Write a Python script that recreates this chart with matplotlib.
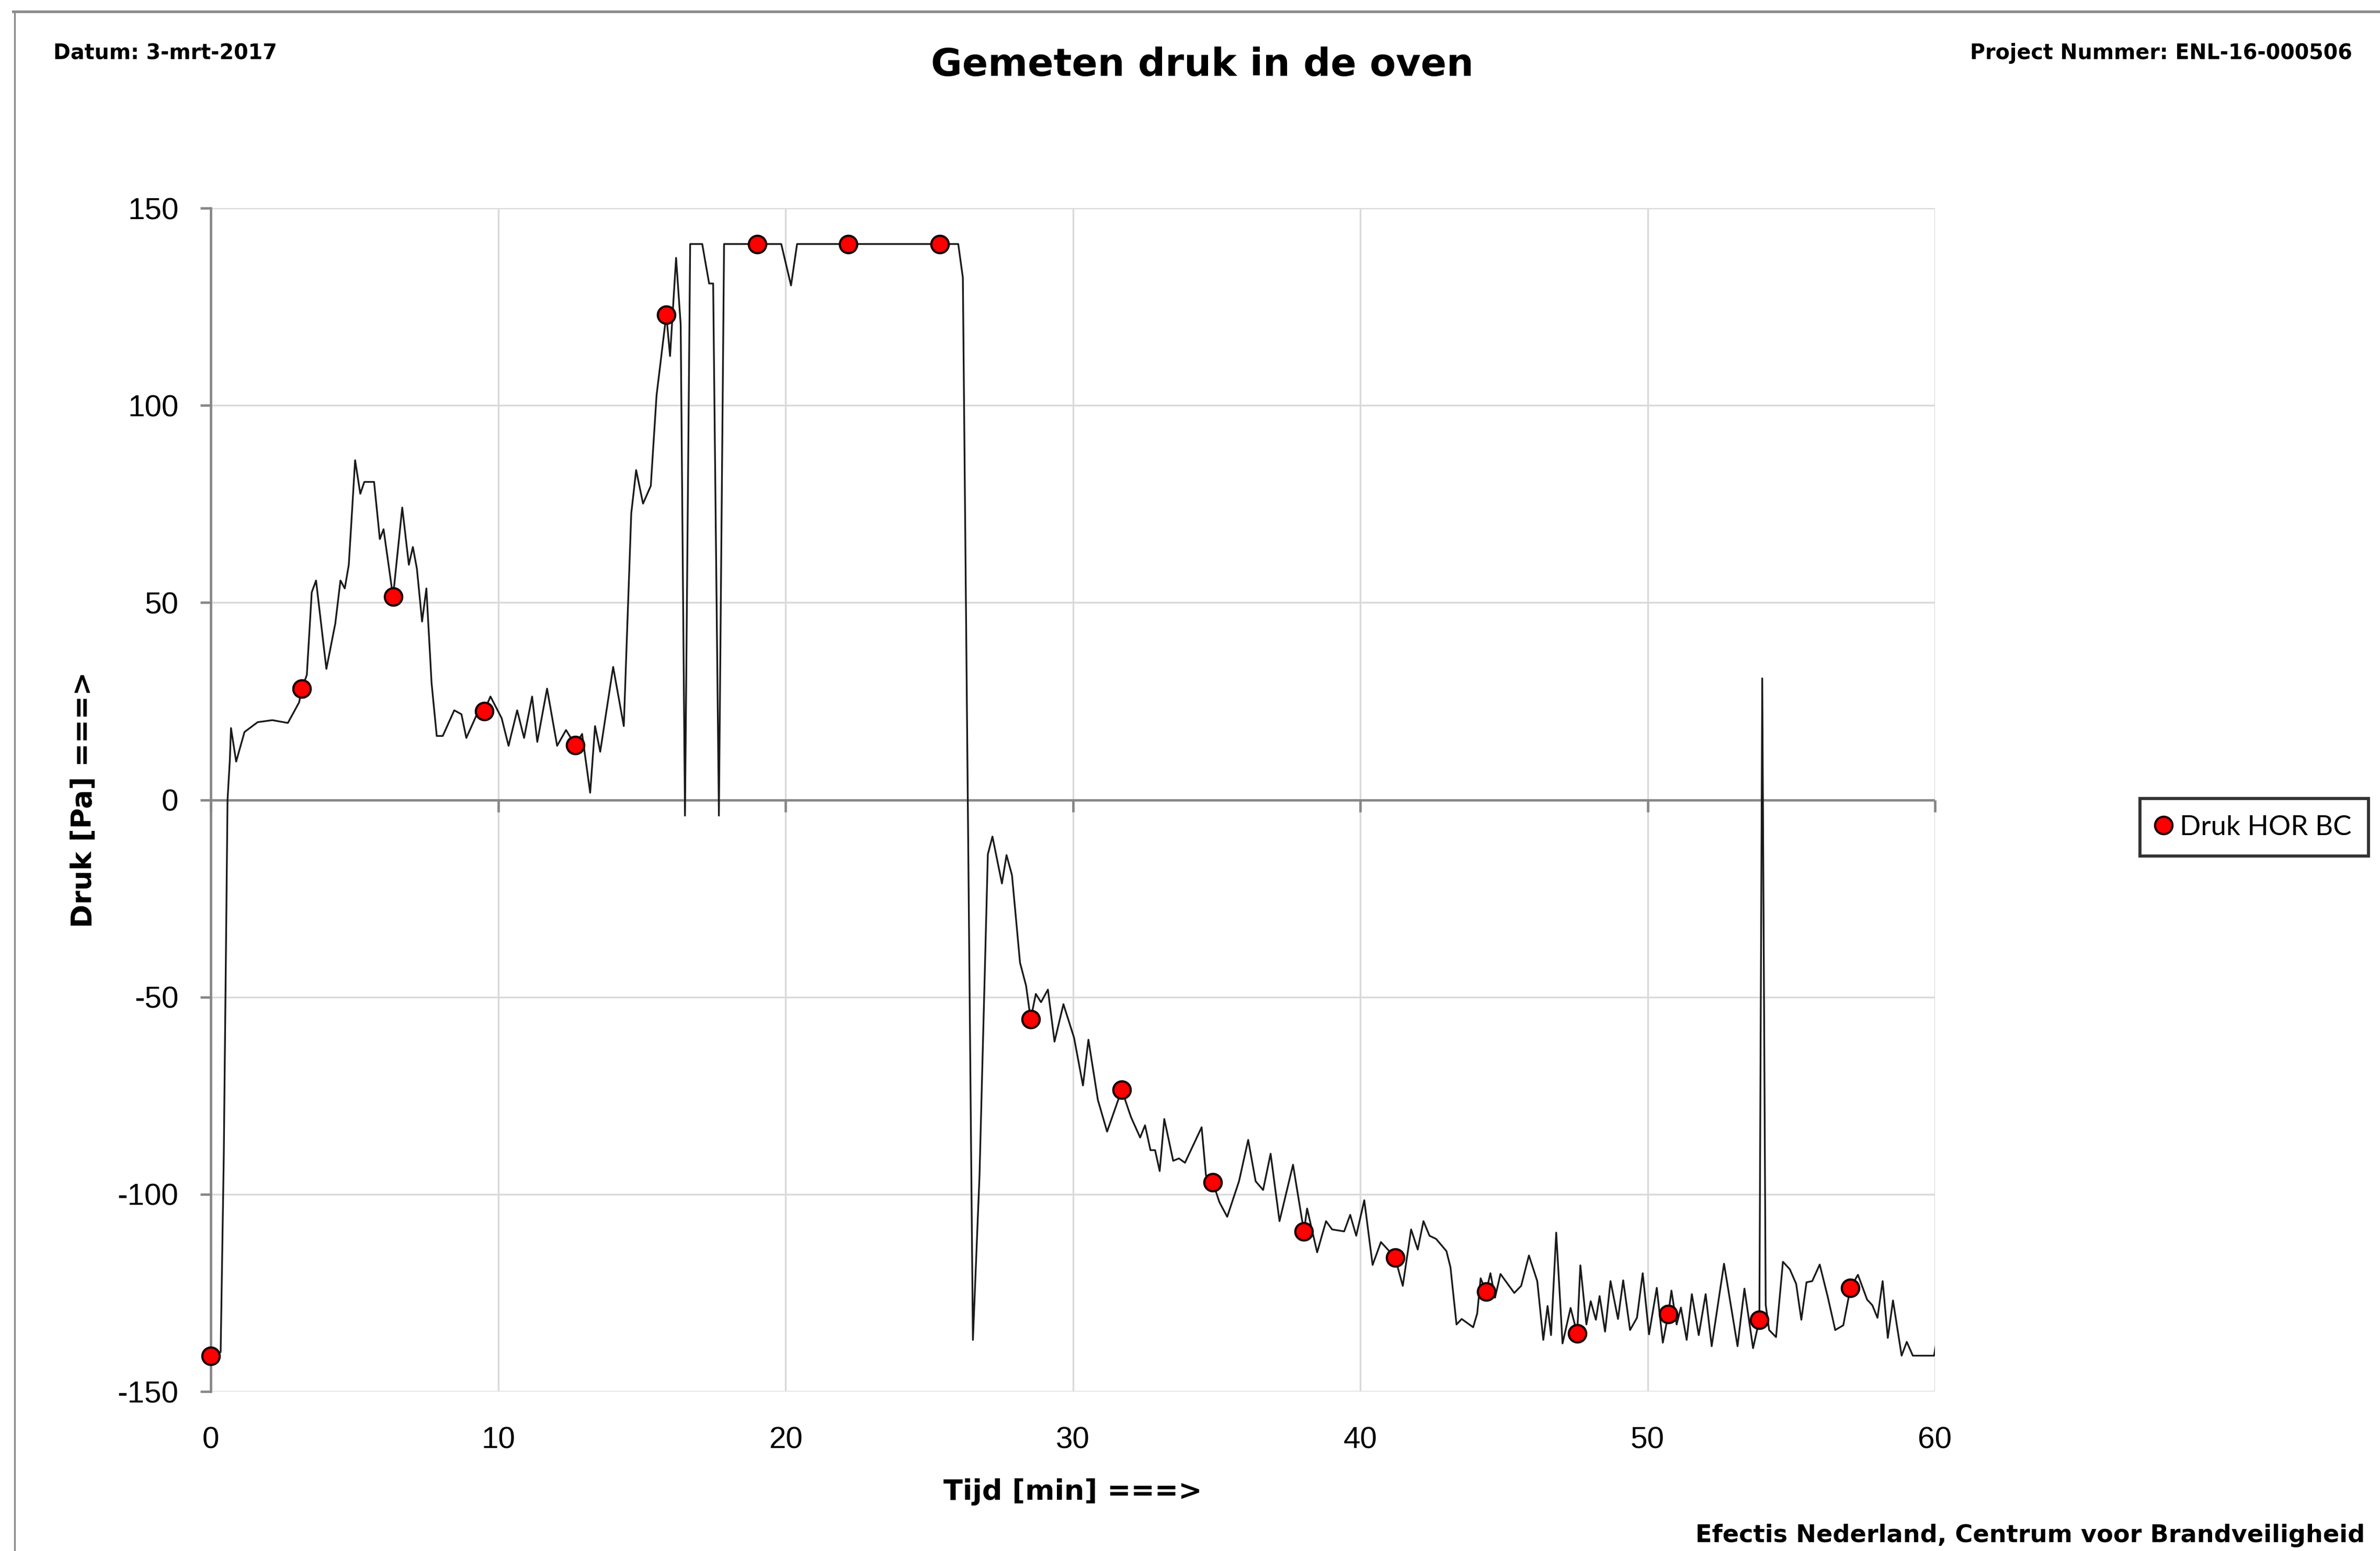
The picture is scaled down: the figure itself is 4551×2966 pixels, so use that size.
import matplotlib.pyplot as plt
from matplotlib.lines import Line2D

plt.rcParams['axes.unicode_minus'] = False

# Druk HOR BC, gemeten oven druk [Pa] tegen tijd [min]
time_min = [
    0.00, 0.34, 0.45, 0.58, 0.66, 0.70, 0.88, 1.17, 1.63, 2.14, 2.68, 3.07, 3.17, 3.34,
    3.51, 3.66, 4.02, 4.33, 4.51, 4.66, 4.80, 5.02, 5.20, 5.34, 5.68, 5.88, 6.01, 6.34,
    6.66, 6.89, 7.03, 7.17, 7.35, 7.50, 7.68, 7.86, 8.07, 8.47, 8.72, 8.89, 9.26, 9.51,
    9.73, 10.12, 10.36, 10.66, 10.90, 11.18, 11.36, 11.70, 12.05, 12.36, 12.68, 12.92,
    13.20, 13.37, 13.55, 14.00, 14.37, 14.63, 14.80, 15.04, 15.31, 15.51, 15.85, 15.98,
    16.19, 16.35, 16.50, 16.68, 17.10, 17.34, 17.48, 17.68, 17.86, 19.02, 19.85, 20.19,
    20.40, 22.19, 25.36, 26.01, 26.17, 26.52, 26.75, 26.90, 27.04, 27.20, 27.53, 27.69,
    27.88, 28.16, 28.37, 28.53, 28.71, 28.89, 29.13, 29.36, 29.67, 30.04, 30.35, 30.54,
    30.87, 31.19, 31.70, 32.02, 32.34, 32.51, 32.70, 32.86, 33.02, 33.18, 33.49, 33.69,
    33.90, 34.48, 34.63, 34.87, 35.10, 35.37, 35.78, 36.10, 36.36, 36.62, 36.88, 37.19,
    37.66, 38.04, 38.15, 38.50, 38.81, 39.02, 39.44, 39.65, 39.86, 40.14, 40.43, 40.72,
    41.21, 41.48, 41.77, 42.00, 42.20, 42.41, 42.64, 43.00, 43.14, 43.35, 43.53, 43.93,
    44.07, 44.19, 44.38, 44.53, 44.69, 44.88, 45.36, 45.60, 45.87, 46.16, 46.37, 46.52,
    46.64, 46.82, 47.04, 47.32, 47.55, 47.66, 47.87, 48.02, 48.20, 48.33, 48.52, 48.71,
    48.97, 49.15, 49.39, 49.63, 49.83, 50.05, 50.32, 50.53, 50.72, 50.83, 51.01, 51.16,
    51.36, 51.54, 51.78, 52.02, 52.23, 52.66, 53.13, 53.37, 53.67, 53.89, 53.99, 54.11,
    54.23, 54.47, 54.71, 54.95, 55.17, 55.35, 55.53, 55.73, 55.99, 56.27, 56.53, 56.81,
    57.06, 57.32, 57.64, 57.82, 58.00, 58.18, 58.36, 58.54, 58.84, 59.02, 59.23, 59.97,
    60.05,
]
druk_pa = [
    -141.0, -140.0, -90.0, 0.0, 10.0, 18.2, 9.7, 17.2, 19.7, 20.2, 19.5, 24.7, 28.2, 31.7,
    52.6, 55.6, 33.2, 44.7, 55.6, 53.6, 59.6, 86.1, 77.6, 80.6, 80.6, 66.1, 68.6, 51.5,
    74.1, 59.6, 64.1, 58.6, 45.2, 53.6, 29.7, 16.2, 16.2, 22.7, 21.7, 15.7, 21.7, 22.5,
    26.2, 20.7, 13.7, 22.7, 15.7, 26.2, 14.7, 28.2, 13.7, 17.7, 13.9, 16.7,
    1.8, 18.7, 12.2, 33.7, 18.7, 72.6, 83.6, 75.1, 79.6, 102.5, 123.0, 112.5,
    137.4, 120.5, -4.0, 140.9, 140.9, 130.9, 130.9, -4.0, 140.9, 140.9, 140.9, 130.4,
    140.9, 140.9, 140.9, 140.9, 132.4, -136.9, -95.2, -52.9, -13.8, -9.3, -21.2, -14.0,
    -19.1, -41.3, -47.1, -55.6, -49.2, -51.3, -48.1, -61.3, -51.8, -60.3, -72.4, -60.8,
    -76.1, -84.1, -73.5, -80.4, -85.6, -82.5, -88.8, -88.8, -94.1, -80.9, -91.5, -90.9,
    -92.0, -83.0, -95.2, -97.0, -102.0, -105.7, -96.7, -86.2, -96.7, -98.9, -89.7, -106.8,
    -92.5, -109.4, -103.6, -114.7, -106.8, -108.9, -109.4, -105.2, -110.5, -101.5, -117.9, -112.1,
    -116.0, -123.2, -108.9, -114.0, -106.8, -110.5, -111.3, -114.4, -118.5, -133.0, -131.6, -133.7,
    -130.2, -121.3, -124.7, -120.0, -126.2, -120.2, -125.0, -123.2, -115.5, -122.0, -136.9, -128.3,
    -135.7, -109.7, -137.8, -128.8, -135.3, -118.0, -133.0, -127.1, -131.8, -125.8, -134.8, -122.0,
    -131.6, -121.8, -134.4, -131.3, -120.0, -135.5, -123.7, -137.6, -130.4, -124.4, -133.0, -128.7,
    -136.9, -125.3, -135.7, -125.3, -138.5, -117.6, -138.5, -123.9, -139.0, -131.8, 30.8, -128.0,
    -134.4, -136.2, -117.1, -119.0, -122.7, -131.8, -122.3, -122.0, -117.8, -126.0, -134.4, -133.2,
    -123.7, -120.4, -126.7, -128.1, -131.3, -122.0, -136.4, -126.9, -140.9, -137.4, -140.9, -140.9,
    -137.4,
]

# meetpunten met marker
marker_t = [0.0, 3.17, 6.34, 9.51, 12.68, 15.85, 19.02, 22.19, 25.36, 28.53,
            31.70, 34.87, 38.04, 41.21, 44.38, 47.55, 50.72, 53.89, 57.06]
marker_v = [-141.0, 28.2, 51.5, 22.5, 13.9, 123.0, 140.9, 140.9, 140.9, -55.6,
            -73.5, -97.0, -109.4, -116.0, -124.7, -135.3, -130.4, -131.8, -123.7]

x_ticks = [0, 10, 20, 30, 40, 50, 60]
y_ticks = [-150, -100, -50, 0, 50, 100, 150]

bold_font = 'DejaVu Sans'
tick_font = 'Liberation Sans'
axis_grey = '#868686'

fig = plt.figure(figsize=(4551 / 300, 2966 / 300), dpi=300)
fig.patch.set_facecolor('white')

ax = fig.add_axes([0.0886, 0.1028, 0.7244, 0.7630])
ax.plot(time_min, druk_pa, color='#1a1a1a', lw=0.8, zorder=3)
ax.plot(marker_t, marker_v, ls='none', marker='o', ms=8, mfc='#ff0000',
        mec='#1a0000', mew=1.0, label='Druk HOR BC', zorder=4, clip_on=False)

ax.set_xlim(0, 60)
ax.set_ylim(-150, 150)
ax.set_xticks(x_ticks)
ax.set_yticks(y_ticks)
ax.grid(True, color='#d9d9d9', lw=0.8, zorder=0)
ax.set_axisbelow(True)

for side in ['top', 'right', 'bottom']:
    ax.spines[side].set_visible(False)
ax.spines['left'].set_color(axis_grey)
ax.spines['left'].set_linewidth(1.1)
ax.spines['left'].set_zorder(2)

# horizontale as op 0 met kleine streepjes naar beneden
ax.axhline(0, color=axis_grey, lw=1.1, zorder=2)
ax.plot(x_ticks, [0] * len(x_ticks), ls='none', marker=3, ms=5.5,
        mew=1.1, color=axis_grey, zorder=2, clip_on=False)

ax.tick_params(axis='x', length=0, pad=16, labelsize=14)
ax.tick_params(axis='y', length=4.8, width=1.1, color=axis_grey, pad=10, labelsize=14)
for lab in ax.get_xticklabels() + ax.get_yticklabels():
    lab.set_fontfamily(tick_font)

ax.set_xlabel('Tijd [min] ===>', fontsize=13, fontweight='bold', fontfamily=bold_font)
ax.set_ylabel('Druk [Pa] ===>', fontsize=13, fontweight='bold', fontfamily=bold_font)
ax.xaxis.set_label_coords(0.5, -0.0848)
ax.xaxis.label.set_va('center')
ax.yaxis.set_label_coords(-0.0737, 0.5)
ax.yaxis.label.set_va('center')

leg = ax.legend(loc='center', bbox_to_anchor=(0.9471, 0.4666),
                bbox_transform=fig.transFigure, frameon=True, fancybox=False,
                handlelength=0.5, handletextpad=0.35, borderpad=0.6,
                borderaxespad=0, prop={'family': 'Lato', 'size': 12.7})
leg.get_frame().set_edgecolor('black')
leg.get_frame().set_linewidth(1.4)

fig.text(0.5051, 0.9579, 'Gemeten druk in de oven', ha='center', va='center',
         fontsize=17.5, fontweight='bold', fontfamily=bold_font)
fig.text(0.0224, 0.9656, 'Datum: 3-mrt-2017', ha='left', va='center',
         fontsize=9.5, fontweight='bold', fontfamily=bold_font)
fig.text(0.9884, 0.9656, 'Project Nummer: ENL-16-000506', ha='right', va='center',
         fontsize=9.5, fontweight='bold', fontfamily=bold_font)
fig.text(0.9936, 0.0098, 'Efectis Nederland, Centrum voor Brandveiligheid', ha='right',
         va='center', fontsize=11.1, fontweight='bold', fontfamily=bold_font)

# paginarand boven en links
fig.add_artist(Line2D([0.0055, 1.0], [0.9925, 0.9925], transform=fig.transFigure,
                      color='#8c8c8c', lw=1.2))
fig.add_artist(Line2D([0.0062, 0.0062], [0.0, 0.9925], transform=fig.transFigure,
                      color='#8c8c8c', lw=0.8))

fig.savefig('out.png', dpi=300, facecolor='white')
